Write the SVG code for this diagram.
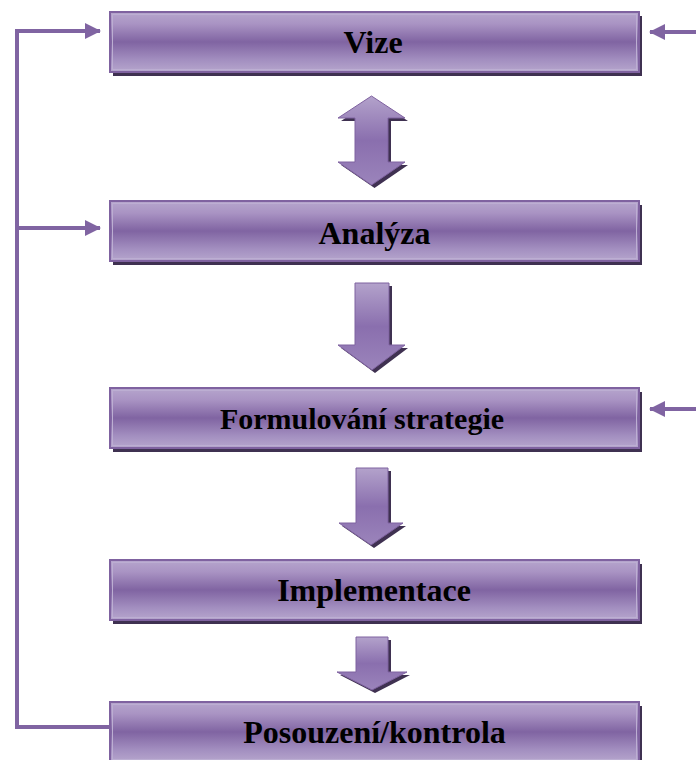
<svg xmlns="http://www.w3.org/2000/svg" width="696" height="760" viewBox="0 0 696 760">
  <defs>
    <linearGradient id="boxFill" x1="0" y1="0" x2="0" y2="1">
      <stop offset="0" stop-color="#b6a6cd"/>
      <stop offset="0.2" stop-color="#a993c3"/>
      <stop offset="0.5" stop-color="#8064a2"/>
      <stop offset="0.8" stop-color="#a38fc0"/>
      <stop offset="1" stop-color="#b6a6cd"/>
    </linearGradient>
    <linearGradient id="arrowFill" x1="0" y1="0" x2="0" y2="1">
      <stop offset="0" stop-color="#b3a2cb"/>
      <stop offset="0.5" stop-color="#8a6fae"/>
      <stop offset="1" stop-color="#9b84bb"/>
    </linearGradient>
    <marker id="head" viewBox="0 0 16 16" refX="15" refY="8" markerWidth="16" markerHeight="16" markerUnits="userSpaceOnUse" orient="auto">
      <path d="M0,0 L16,8 L0,16 Z" fill="#8064a2"/>
    </marker>
  </defs>
  <style>
    .shadow { fill: #3f3151; }
    .box { fill: url(#boxFill); stroke: #7f62a0; stroke-width: 2; }
    .inner { fill: none; stroke: #bcaed2; stroke-width: 1; }
    .label { font-family: "Liberation Serif", "Times New Roman", serif; font-weight: bold; font-size: 32px; fill: #000; text-anchor: middle; }
    .link { fill: none; stroke: #8064a2; stroke-width: 4; }
    .block { fill: url(#arrowFill); stroke: #7f62a0; stroke-width: 1; }
  </style>

  <!-- feedback and input connectors -->
  <g id="connectors">
    <polyline class="link" points="110,727 17,727 17,31 100,31" marker-end="url(#head)"/>
    <line class="link" x1="17" y1="228" x2="100" y2="228" marker-end="url(#head)"/>
    <line class="link" x1="696" y1="32" x2="650" y2="32" marker-end="url(#head)"/>
    <line class="link" x1="696" y1="409" x2="650" y2="409" marker-end="url(#head)"/>

    <!-- block arrows between stages -->
    <g id="arrow-vize-analyza">
      <polygon class="shadow" points="374.5,99 408,121 391,121 391,165 408,165 374.5,188 341,165 358,165 358,121 341,121"/>
      <polygon class="block" points="371.5,96 405,118 388,118 388,162 405,162 371.5,185 338,162 355,162 355,118 338,118"/>
    </g>
    <g id="arrow-analyza-formulovani">
      <polygon class="shadow" points="358,286 392,286 392,348 408,348 375,373 341,348 358,348"/>
      <polygon class="block" points="355,283 389,283 389,345 405,345 372,370 338,345 355,345"/>
    </g>
    <g id="arrow-formulovani-implementace">
      <polygon class="shadow" points="359,471 391,471 391,526 406,526 374,548 342,526 359,526"/>
      <polygon class="block" points="356,468 388,468 388,523 403,523 371,545 339,523 356,523"/>
    </g>
    <g id="arrow-implementace-posouzeni">
      <polygon class="shadow" points="359,640 391,640 391,675 410,675 375,693 340,675 359,675"/>
      <polygon class="block" points="356,637 388,637 388,672 407,672 372,690 337,672 356,672"/>
    </g>
  </g>

  <g id="vize">
    <rect class="shadow" x="113" y="16" width="529" height="60"/>
    <rect class="box" x="110" y="12" width="529" height="60"/>
    <rect class="inner" x="112.5" y="14.5" width="524" height="55"/>
    <text class="label" x="373" y="53">Vize</text>
  </g>

  <g id="analyza">
    <rect class="shadow" x="113" y="205" width="529" height="60"/>
    <rect class="box" x="110" y="201" width="529" height="60"/>
    <rect class="inner" x="112.5" y="203.5" width="524" height="55"/>
    <text class="label" x="374.5" y="244">Analýza</text>
  </g>

  <g id="formulovani">
    <rect class="shadow" x="113" y="392" width="529" height="60"/>
    <rect class="box" x="110" y="388" width="529" height="60"/>
    <rect class="inner" x="112.5" y="390.5" width="524" height="55"/>
    <text class="label" x="362" y="429" style="font-size:30px">Formulování strategie</text>
  </g>

  <g id="implementace">
    <rect class="shadow" x="113" y="564" width="529" height="60"/>
    <rect class="box" x="110" y="560" width="529" height="60"/>
    <rect class="inner" x="112.5" y="562.5" width="524" height="55"/>
    <text class="label" x="374" y="601">Implementace</text>
  </g>

  <g id="posouzeni">
    <rect class="shadow" x="113" y="706" width="529" height="60"/>
    <rect class="box" x="110" y="702" width="529" height="60"/>
    <rect class="inner" x="112.5" y="704.5" width="524" height="55"/>
    <text class="label" x="374.5" y="743">Posouzení/kontrola</text>
  </g>
</svg>
